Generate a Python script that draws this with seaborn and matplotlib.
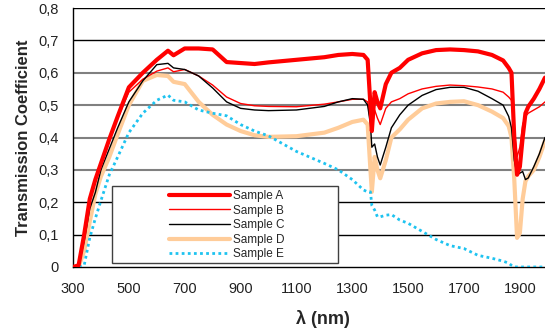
import matplotlib
matplotlib.use('Agg')
import matplotlib.pyplot as plt
import seaborn as sns
import numpy as np
from matplotlib.patches import Rectangle

# wavelength grid (nm)
wl = [300, 320, 340, 360, 380, 400, 430, 460, 500, 550, 600, 640, 660, 700, 750,
      800, 850, 900, 950, 1000, 1100, 1200, 1250, 1300, 1340, 1355, 1365, 1370,
      1380, 1390, 1400, 1420, 1440, 1470, 1500, 1550, 1600, 1650, 1700, 1750,
      1800, 1840, 1860, 1870, 1880, 1890, 1900, 1910, 1920, 1930, 1950, 1970, 1990]

sample_a = [0, 0.005, 0.10, 0.21, 0.27, 0.32, 0.395, 0.465, 0.555, 0.60, 0.64, 0.668, 0.654, 0.675, 0.675,
            0.672, 0.633, 0.63, 0.627, 0.632, 0.64, 0.648, 0.655, 0.658, 0.655, 0.64, 0.50, 0.42,
            0.54, 0.51, 0.49, 0.565, 0.60, 0.615, 0.64, 0.66, 0.67, 0.672, 0.67, 0.666,
            0.655, 0.638, 0.615, 0.60, 0.40, 0.285, 0.31, 0.40, 0.475, 0.495, 0.52, 0.55, 0.585]

sample_b = [0, 0.005, 0.09, 0.20, 0.27, 0.315, 0.39, 0.46, 0.54, 0.58, 0.605, 0.615, 0.603, 0.61, 0.59,
            0.562, 0.525, 0.505, 0.498, 0.496, 0.495, 0.503, 0.51, 0.518, 0.518, 0.51, 0.45, 0.42,
            0.485, 0.46, 0.44, 0.49, 0.51, 0.52, 0.535, 0.55, 0.558, 0.562, 0.56, 0.556,
            0.55, 0.54, 0.525, 0.515, 0.42, 0.34, 0.37, 0.44, 0.465, 0.475, 0.485, 0.495, 0.51]

sample_c = [0, 0.003, 0.08, 0.18, 0.23, 0.30, 0.365, 0.43, 0.51, 0.575, 0.625, 0.629, 0.615, 0.61, 0.59,
            0.553, 0.51, 0.49, 0.485, 0.483, 0.485, 0.496, 0.51, 0.52, 0.518, 0.50, 0.44, 0.37,
            0.38, 0.34, 0.315, 0.37, 0.43, 0.47, 0.50, 0.53, 0.548, 0.555, 0.555, 0.543,
            0.52, 0.50, 0.465, 0.43, 0.33, 0.285, 0.29, 0.295, 0.27, 0.275, 0.31, 0.35, 0.40]

sample_d = [0, 0.0, 0.05, 0.14, 0.225, 0.28, 0.34, 0.41, 0.50, 0.575, 0.593, 0.59, 0.572, 0.565, 0.51,
            0.47, 0.44, 0.42, 0.407, 0.402, 0.404, 0.415, 0.43, 0.448, 0.455, 0.44, 0.30, 0.232,
            0.34, 0.30, 0.274, 0.33, 0.40, 0.425, 0.455, 0.49, 0.505, 0.51, 0.512, 0.50,
            0.48, 0.46, 0.435, 0.40, 0.27, 0.09, 0.105, 0.21, 0.265, 0.28, 0.30, 0.34, 0.39]

sample_e = [0, 0, 0.005, 0.09, 0.15, 0.205, 0.285, 0.34, 0.415, 0.475, 0.515, 0.531, 0.515, 0.51, 0.485,
            0.475, 0.467, 0.44, 0.42, 0.405, 0.357, 0.32, 0.30, 0.27, 0.238, 0.232, 0.232, 0.19,
            0.176, 0.155, 0.155, 0.16, 0.162, 0.145, 0.135, 0.11, 0.085, 0.066, 0.057, 0.036,
            0.027, 0.018, 0.012, 0.005, 0, 0, 0, 0, 0, 0, 0, 0, 0]

sns.set_style('white')
plt.rcParams['font.family'] = ['Liberation Sans', 'DejaVu Sans']

fig = plt.figure(figsize=(5.45, 3.3), dpi=100)
ax = fig.add_axes([73 / 545, 63 / 330, 472 / 545, 259 / 330])

# gridlines
for yv in [0.1, 0.2, 0.7, 0.8]:
    ax.axhline(yv, color='black', lw=1, zorder=1)
for yv in [0.3, 0.4, 0.5, 0.6]:
    ax.axhline(yv, color='#808080', lw=1.5, zorder=1)

sns.lineplot(x=wl, y=sample_a, ax=ax, color='#FF0000', lw=3, label='Sample A', zorder=5)
sns.lineplot(x=wl, y=sample_b, ax=ax, color='#FF0000', lw=1, label='Sample B', zorder=4)
sns.lineplot(x=wl, y=sample_c, ax=ax, color='black', lw=1, label='Sample C', zorder=4)
sns.lineplot(x=wl, y=sample_d, ax=ax, color='#FFCC99', lw=3, label='Sample D', zorder=3)
sns.lineplot(x=wl, y=sample_e, ax=ax, color='#1EC3F0', lw=2, linestyle=(0, (1, 1.2)),
             label='Sample E', zorder=3)

ax.set_xlim(300, 1990)
ax.set_ylim(0, 0.8)
ax.set_xticks(range(300, 2000, 100))
ax.set_xticklabels([str(v) if (v - 300) % 200 == 0 else '' for v in range(300, 2000, 100)])
ax.set_yticks(np.arange(0, 0.81, 0.1))
ax.set_yticklabels(['0'] + [f'0,{i}' for i in range(1, 9)])
ax.tick_params(axis='both', direction='out', length=5, width=1, color='black',
               labelsize=10.5, labelcolor='#222222')
ax.tick_params(axis='x', pad=6)
ax.tick_params(axis='y', pad=5)

for s in ['top', 'right']:
    ax.spines[s].set_visible(False)
for s in ['left', 'bottom']:
    ax.spines[s].set_color('black')
    ax.spines[s].set_linewidth(1)

ax.set_ylabel('Transmission Coefficient', fontsize=12, fontweight='bold')
ax.yaxis.set_label_coords(-0.09, 0.5)
ax.set_xlabel('λ (nm)', fontsize=13, fontweight='bold')
ax.xaxis.set_label_coords((323 - 73) / 472, -0.165)

# legend box
box = Rectangle(((112 - 73) / 472, (267 - 263) / 259), 226 / 472, 77 / 259,
                transform=ax.transAxes, facecolor='white', edgecolor='#404040',
                lw=1, zorder=6)
ax.add_patch(box)
leg = ax.legend(loc='upper left', bbox_to_anchor=((169 - 73) / 472, (267 - 190) / 259),
                frameon=False, fontsize=8.5, handlelength=5.2, handletextpad=0.2,
                labelspacing=0.22, borderpad=0, borderaxespad=0)
leg.set_zorder(7)

fig.savefig('out.png', dpi=100)
